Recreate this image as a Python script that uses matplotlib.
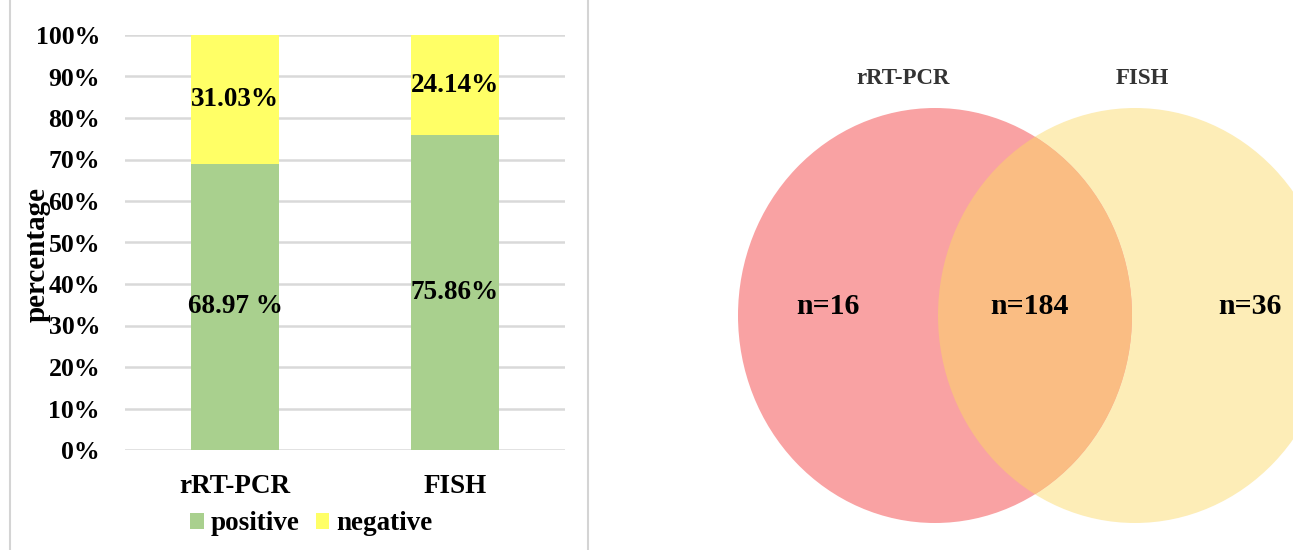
import matplotlib
matplotlib.use("Agg")
import matplotlib.pyplot as plt
from matplotlib.patches import Ellipse
from matplotlib.lines import Line2D
import numpy as np

plt.rcParams['font.family'] = ['Liberation Serif', 'DejaVu Serif']
plt.rcParams['font.weight'] = 'bold'

# bar chart data
methods = ['rRT-PCR', 'FISH']
positive = [68.97, 75.86]
negative = [31.03, 24.14]
pos_labels = ['68.97 %', '75.86%']
neg_labels = ['31.03%', '24.14%']
series_names = ['positive', 'negative']
yticks = [0, 10, 20, 30, 40, 50, 60, 70, 80, 90, 100]

# venn data
venn_sets = ['rRT-PCR', 'FISH']
only_pcr = 16
both = 184
only_fish = 36

W, H = 1293, 550
fig = plt.figure(figsize=(W / 100, H / 100), dpi=100)

# full-figure overlay in pixel coords (venn + panel lines)
bg = fig.add_axes([0, 0, 1, 1], zorder=0)
bg.set_xlim(0, W)
bg.set_ylim(H, 0)
bg.axis('off')
bg.add_line(Line2D([10, 10], [0, H], color='#D4D4D4', lw=1.5))
bg.add_line(Line2D([588, 588], [0, H], color='#D4D4D4', lw=1.5))

red = Ellipse((935, 315.5), 394, 415, facecolor='#F9A2A3', edgecolor='none')
yel = Ellipse((1135, 315.5), 394, 415, facecolor='#FDEDB7', edgecolor='none')
bg.add_patch(yel)
bg.add_patch(red)
inter = Ellipse((1135, 315.5), 394, 415, facecolor='#FABD83', edgecolor='none')
bg.add_patch(inter)
inter.set_clip_path(red)

bg.text(903, 78, venn_sets[0], ha='center', va='center', fontsize=16.5, color='#333333')
bg.text(1142, 78, venn_sets[1], ha='center', va='center', fontsize=16.5, color='#333333')
bg.text(828, 306, 'n=%d' % only_pcr, ha='center', va='center', fontsize=21.5)
bg.text(1029, 306, 'n=%d' % both, ha='center', va='center', fontsize=21.5)
bg.text(1250, 306, 'n=%d' % only_fish, ha='center', va='center', fontsize=21.5)

# stacked bar chart
ax = fig.add_axes([125 / W, 1 - 450 / H, 440 / W, 415 / H], zorder=1)
ax.set_facecolor('none')
x = np.arange(len(methods))
ax.bar(x, positive, width=0.4, color='#A9D08E', label=series_names[0], zorder=3)
ax.bar(x, negative, width=0.4, bottom=positive, color='#FFFF66', label=series_names[1], zorder=3)

for i in range(len(methods)):
    ax.text(x[i], positive[i] / 2, pos_labels[i], ha='center', va='center', fontsize=19.5, zorder=4)
    ax.text(x[i], positive[i] + negative[i] / 2, neg_labels[i], ha='center', va='center', fontsize=19.5, zorder=4)

ax.set_xlim(-0.5, 1.5)
ax.set_ylim(0, 100)
ax.set_yticks(yticks)
ax.set_yticklabels(['%d%%' % v for v in yticks], fontsize=18.5)
ax.set_xticks(x)
ax.set_xticklabels(methods, fontsize=19.5)
ax.tick_params(axis='y', length=0, pad=18)
ax.tick_params(axis='x', length=0, pad=17)
ax.yaxis.grid(True, color='#D9D9D9', lw=1.8, zorder=0)
ax.set_axisbelow(True)
for s in ax.spines.values():
    s.set_visible(False)

fig.text(37 / W, 1 - 254 / H, 'percentage', rotation=90, ha='center', va='center', fontsize=21)

ax.legend(loc='center', bbox_to_anchor=(0.423, -0.178), ncol=2, frameon=False,
          fontsize=19.5, handlelength=0.5, handleheight=0.55, handletextpad=0.25,
          columnspacing=0.6)

fig.savefig('out.png', dpi=100, facecolor='white')
